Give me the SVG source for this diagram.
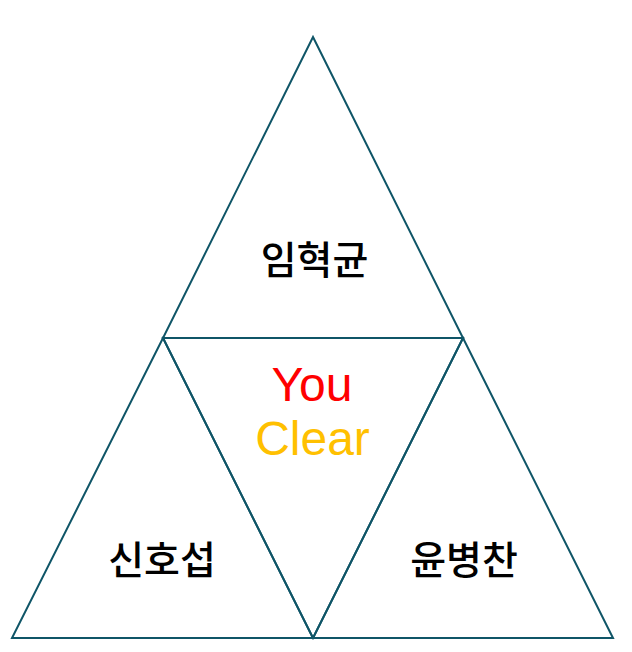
<svg xmlns="http://www.w3.org/2000/svg" width="632" height="652" viewBox="0 0 632 652">
<style>
.tri{fill:none;stroke:#0F5567;stroke-width:2;stroke-linejoin:miter}
.ko{font-family:"Noto Sans CJK KR","Noto Sans",sans-serif;font-size:39px;font-weight:500;fill:#000;text-anchor:middle}
.en{font-family:"Liberation Sans",Arial,sans-serif;font-size:48px;text-anchor:middle}
</style>
<rect width="632" height="652" fill="#fff"/>
<g id="connectors"></g>
<g id="top">
<polygon class="tri" points="313,37 463,338 163,338"/>
<text class="ko" x="314.5" y="274">임혁균</text>
</g>
<g id="center">
<polygon class="tri" points="163,338 463,338 313,638"/>
<text class="en" x="312" y="401" fill="#FF0000">You</text>
<text class="en" x="312.5" y="455" fill="#FFC000">Clear</text>
</g>
<g id="left">
<polygon class="tri" points="163,338 313,638 12,638"/>
<text class="ko" x="162" y="574">신호섭</text>
</g>
<g id="right">
<polygon class="tri" points="463,338 613,638 313,638"/>
<text class="ko" x="464" y="574">윤병찬</text>
</g>
</svg>
